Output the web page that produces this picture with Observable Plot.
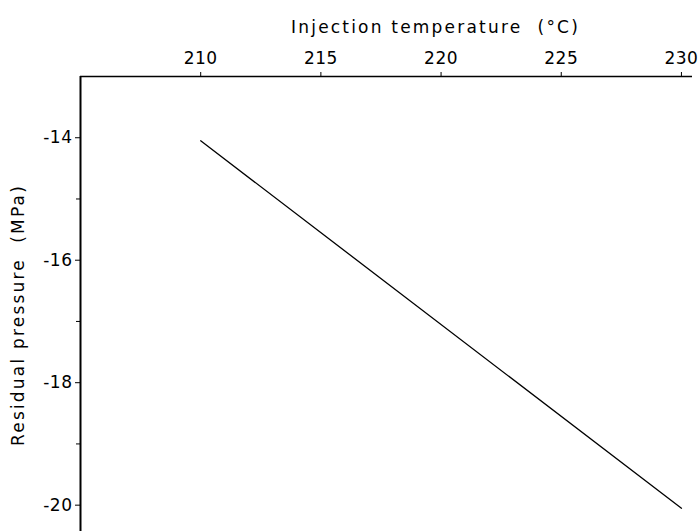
<!DOCTYPE html>
<html>
<head>
<meta charset="utf-8">
<script src="https://cdn.jsdelivr.net/npm/d3@7"></script>
<script src="https://cdn.jsdelivr.net/npm/@observablehq/plot@0.6"></script>
<style>
  html, body { margin: 0; padding: 0; background: #fff; }
  svg text { letter-spacing: 0.5px; }
  svg .title text { letter-spacing: 2.2px; }
</style>
</head>
<body>
<div id="chart"></div>
<script>
const temperature = [210, 230];
const pressure = [-14.05, -20.05];
const xTicks = [210, 215, 220, 225, 230];
const yMajorTicks = [-14, -16, -18, -20];
const yMinorTicks = [-15, -17, -19];
const xLabel = "Injection temperature  (°C)";
const yLabel = "Residual pressure  (MPa)";

const data = temperature.map((t, i) => ({t, p: pressure[i]}));
const font = "'DejaVu Sans', sans-serif";

const chart = Plot.plot({
  width: 698,
  height: 531,
  marginTop: 76,
  marginLeft: 80,
  marginRight: 6,
  marginBottom: 0,
  style: {fontFamily: font, fontSize: "17px", color: "#000", background: "#fff"},
  x: {type: "linear", domain: [205, 230.46]},
  y: {type: "linear", domain: [-20.43, -13]},
  marks: [
    Plot.ruleY([-13], {stroke: "#000", strokeWidth: 1.5}),
    Plot.ruleX([205], {stroke: "#000", strokeWidth: 2}),
    Plot.axisX(xTicks, {anchor: "top", tickSize: 5, tickPadding: 8, tickFormat: d => String(d),
      label: null, fontSize: 17}),
    Plot.axisY(yMajorTicks, {anchor: "left", tickSize: 5, tickPadding: 3, tickFormat: d => String(d),
      label: null, fontSize: 17}),
    Plot.axisY(yMinorTicks, {anchor: "left", tickSize: 4, tickFormat: () => "", label: null}),
    Plot.text([xLabel], {frameAnchor: "top", dx: 49, dy: -56, fontSize: 17, className: "title", fill: "#000"}),
    Plot.text([yLabel], {frameAnchor: "left", textAnchor: "middle", rotate: -90, dx: -62, dy: 11, fontSize: 17, className: "title", fill: "#000"}),
    Plot.line(data, {x: "t", y: "p", stroke: "#000", strokeWidth: 1.3})
  ]
});
document.getElementById("chart").appendChild(chart);
</script>
</body>
</html>
